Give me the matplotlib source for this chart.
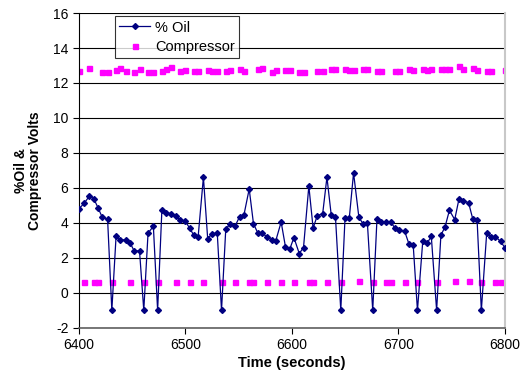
import matplotlib
matplotlib.use("Agg")
import matplotlib.pyplot as plt

plt.rcParams["font.family"] = ["Liberation Sans", "DejaVu Sans"]
plt.rcParams["axes.unicode_minus"] = False

# Sample times (seconds), one per reading
time_s = [
    6400, 6405, 6410, 6414, 6418, 6422, 6427, 6431, 6435, 6439,
    6444, 6448, 6452, 6457, 6461, 6465, 6470, 6474, 6478, 6482,
    6487, 6491, 6495, 6500, 6504, 6508, 6512, 6517, 6521, 6525,
    6530, 6534, 6538, 6542, 6547, 6551, 6555, 6560, 6564, 6568,
    6572, 6577, 6581, 6585, 6590, 6594, 6598, 6602, 6607, 6611,
    6616, 6620, 6624, 6629, 6633, 6637, 6641, 6646, 6650, 6654,
    6658, 6663, 6667, 6671, 6676, 6680, 6684, 6688, 6693, 6697,
    6701, 6706, 6710, 6714, 6718, 6723, 6727, 6731, 6736, 6740,
    6744, 6748, 6753, 6757, 6761, 6766, 6770, 6774, 6778, 6783,
    6787, 6791, 6796, 6800,
]

oil_pct = [
    4.80, 5.12, 5.54, 5.39, 4.87, 4.32, 4.23, -1.0, 3.26, 3.03,
    3.03, 2.87, 2.40, 2.40, -1.0, 3.41, 3.81, -1.0, 4.74, 4.57,
    4.53, 4.42, 4.15, 4.09, 3.71, 3.29, 3.18, 6.61, 3.10, 3.37,
    3.43, -1.0, 3.66, 3.92, 3.85, 4.36, 4.44, 5.94, 3.96, 3.43,
    3.43, 3.18, 3.05, 2.99, 4.05, 2.65, 2.49, 3.16, 2.25, 2.59,
    6.11, 3.71, 4.42, 4.53, 6.61, 4.47, 4.34, -1.0, 4.30, 4.28,
    6.86, 4.32, 3.94, 3.98, -1.0, 4.25, 4.06, 4.04, 4.04, 3.69,
    3.60, 3.52, 2.80, 2.74, -1.0, 2.97, 2.83, 3.23, -1.0, 3.29,
    3.79, 4.72, 4.19, 5.37, 5.26, 5.16, 4.21, 4.17, -1.0, 3.41,
    3.22, 3.22, 2.95, 2.59,
]

compressor_v = [
    12.66, 0.60, 12.86, 0.60, 0.60, 12.62, 12.62, 0.60, 12.72, 12.86,
    12.66, 0.60, 12.62, 12.78, 0.60, 12.62, 12.62, 0.60, 12.66, 12.78,
    12.90, 0.60, 12.66, 12.72, 0.60, 12.66, 12.66, 0.60, 12.72, 12.66,
    12.66, 0.60, 12.66, 12.72, 0.60, 12.78, 12.66, 0.60, 0.60, 12.78,
    12.86, 0.60, 12.62, 12.72, 0.60, 12.72, 12.72, 0.60, 12.62, 12.62,
    0.60, 0.60, 12.66, 12.66, 0.60, 12.78, 12.78, 0.60, 12.78, 12.72,
    12.72, 0.65, 12.78, 12.78, 0.60, 12.66, 12.66, 0.60, 0.60, 12.66,
    12.66, 0.60, 12.78, 12.72, 0.60, 12.78, 12.72, 12.78, 0.60, 12.78,
    12.78, 12.78, 0.65, 12.96, 12.78, 0.65, 12.85, 12.72, 0.60, 12.66,
    12.66, 0.60, 0.62, 12.72,
]

x_ticks = [6400, 6500, 6600, 6700, 6800]
y_ticks = list(range(-2, 17, 2))

fig = plt.figure(figsize=(5.22, 3.83), dpi=100)
ax = fig.add_axes([0.151, 0.144, 0.816, 0.822])

ax.plot(time_s, oil_pct, color="#000080", linewidth=0.9, marker="D",
        markersize=3.0, markerfacecolor="#000080", markeredgecolor="#000080",
        label="% Oil", zorder=3)
ax.plot(time_s, compressor_v, linestyle="none", marker="s", markersize=3.6,
        color="#FF00FF", markeredgecolor="#FF00FF", label="Compressor", zorder=2)

ax.set_xlim(6400, 6800)
ax.set_ylim(-2, 16)
ax.set_xticks(x_ticks)
ax.set_yticks(y_ticks)
ax.grid(axis="y", color="black", linewidth=0.8)
ax.set_axisbelow(True)

ax.spines["top"].set_visible(False)
ax.spines["right"].set_color("#C8C8C8")
ax.spines["right"].set_linewidth(1.5)
ax.spines["left"].set_color("black")
ax.spines["bottom"].set_color("#606060")
ax.spines["bottom"].set_linewidth(1.2)
ax.tick_params(axis="both", labelsize=10, direction="out", length=4)

ax.set_xlabel("Time (seconds)", fontsize=10.5, fontweight="bold", labelpad=3)
ax.set_ylabel("%Oil &\nCompressor Volts", fontsize=10, fontweight="bold",
              linespacing=1.0, labelpad=8)

leg = ax.legend(loc="upper left", bbox_to_anchor=(0.085, 0.99), fontsize=10.5,
                frameon=True, fancybox=False, edgecolor="black",
                borderpad=0.3, labelspacing=0.35, handlelength=2.1,
                handletextpad=0.35, borderaxespad=0, markerscale=1.0)
leg.get_frame().set_linewidth(0.8)

fig.savefig("out.png", dpi=100)
